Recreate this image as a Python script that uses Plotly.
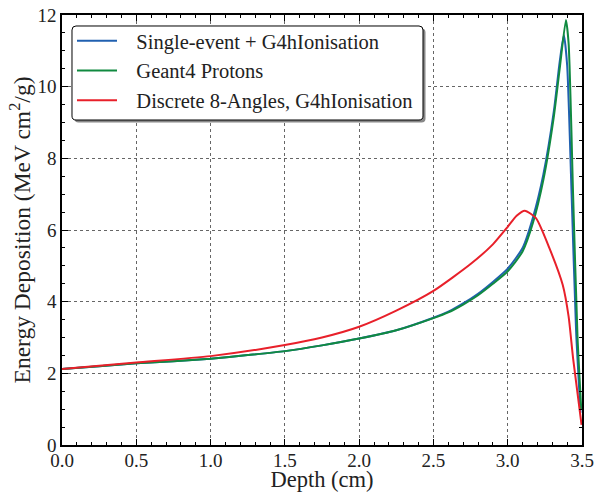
import plotly.graph_objects as go

# Depth (cm) and energy deposition (MeV cm^2/g)
depth_single = [0.0, 0.25, 0.5, 0.75, 1.0, 1.25, 1.5, 1.75, 2.0, 2.25, 2.5, 2.6, 2.7, 2.8, 2.9, 3.0,
                3.1, 3.17, 3.24, 3.31, 3.35, 3.378, 3.40, 3.43, 3.46, 3.49]
edep_single = [2.12, 2.2, 2.28, 2.34, 2.41, 2.51, 2.62, 2.78, 2.97, 3.2, 3.55, 3.72, 3.95, 4.22, 4.55, 4.92,
               5.5, 6.35, 7.55, 9.3, 10.7, 11.44, 10.6, 7.0, 3.2, 0.9]

depth_geant = [0.0, 0.25, 0.5, 0.75, 1.0, 1.25, 1.5, 1.75, 2.0, 2.25, 2.5, 2.6, 2.7, 2.8, 2.9, 3.0,
               3.1, 3.17, 3.24, 3.31, 3.35, 3.392, 3.41, 3.44, 3.47, 3.495]
edep_geant = [2.12, 2.2, 2.28, 2.34, 2.41, 2.51, 2.62, 2.78, 2.97, 3.2, 3.54, 3.7, 3.92, 4.18, 4.5, 4.85,
              5.4, 6.2, 7.4, 9.15, 10.5, 11.86, 11.2, 7.0, 3.0, 1.0]

depth_discrete = [0.0, 0.5, 1.0, 1.5, 1.75, 2.0, 2.25, 2.5, 2.75, 2.9, 3.0, 3.06, 3.115, 3.19, 3.28,
                  3.37, 3.41, 3.44, 3.497]
edep_discrete = [2.12, 2.3, 2.48, 2.79, 3.0, 3.3, 3.75, 4.3, 5.05, 5.6, 6.09, 6.4, 6.54, 6.33, 5.5,
                 4.47, 3.58, 2.42, 0.56]

names = ["Single-event + G4hIonisation", "Geant4 Protons", "Discrete 8-Angles, G4hIonisation"]
colors = ["#2060b0", "#108a40", "#e8202a"]

FONT = "Liberation Serif, Times New Roman, serif"
W, H = 596, 492
ML, MR, MT, MB = 62, 14, 15, 47
PW, PH = W - ML - MR, H - MT - MB

fig = go.Figure()
for x, y, n, c in zip([depth_single, depth_geant, depth_discrete],
                      [edep_single, edep_geant, edep_discrete], names, colors):
    fig.add_trace(go.Scatter(x=x, y=y, mode="lines", name="\u2002\u2009" + n,
                             line=dict(color=c, width=2, shape="spline", smoothing=0.6)))

axis_common = dict(showline=True, linecolor="black", linewidth=1.5, mirror="allticks",
                   ticks="inside", ticklen=6, tickwidth=1, tickcolor="black",
                   showgrid=True, gridcolor="#666", griddash="dot", gridwidth=1,
                   zeroline=False, automargin=False,
                   tickfont=dict(family=FONT, size=19, color="#222"))

fig.update_xaxes(range=[0, 3.5], dtick=0.5, tickformat=".1f", ticklabelstandoff=-3,
                 minor=dict(dtick=0.1, ticks="inside", ticklen=3, tickcolor="black", showgrid=False),
                 title=dict(text="Depth (cm)", standoff=5,
                            font=dict(family=FONT, size=22.5, color="#222")),
                 **axis_common)
fig.update_yaxes(range=[0, 12], dtick=2,
                 minor=dict(dtick=0.5, ticks="inside", ticklen=3, tickcolor="black", showgrid=False),
                 title=dict(text="Energy Deposition (MeV cm<sup>2</sup>/g)", standoff=0,
                            font=dict(family=FONT, size=23.5, color="#222")),
                 **axis_common)


def px_to_paper(px, py):
    return (px - ML) / PW, (H - MB - py) / PH


def rounded_rect(x0, y0, x1, y1, r):
    a = px_to_paper(x0 + r, y0); b = px_to_paper(x1 - r, y0)
    c = px_to_paper(x1, y0); d = px_to_paper(x1, y0 + r)
    e = px_to_paper(x1, y1 - r); f = px_to_paper(x1, y1)
    g = px_to_paper(x1 - r, y1); h = px_to_paper(x0 + r, y1)
    i = px_to_paper(x0, y1); j = px_to_paper(x0, y1 - r)
    k = px_to_paper(x0, y0 + r); l = px_to_paper(x0, y0)
    fmt = lambda p: f"{p[0]:.5f},{p[1]:.5f}"
    return (f"M {fmt(a)} L {fmt(b)} Q {fmt(c)} {fmt(d)} L {fmt(e)} Q {fmt(f)} {fmt(g)} "
            f"L {fmt(h)} Q {fmt(i)} {fmt(j)} L {fmt(k)} Q {fmt(l)} {fmt(a)} Z")


# legend frame: shadow + rounded box
fig.add_shape(type="path", xref="paper", yref="paper", path=rounded_rect(74.5, 28.5, 425.5, 122.5, 4),
              fillcolor="#888", line_width=0, layer="above")
fig.add_shape(type="path", xref="paper", yref="paper", path=rounded_rect(72, 26, 423, 120, 4),
              fillcolor="white", line=dict(color="black", width=1), layer="above")

lx, ly = px_to_paper(72, 21)
fig.update_layout(
    width=W, height=H,
    margin=dict(l=ML, r=MR, t=MT, b=MB),
    plot_bgcolor="white", paper_bgcolor="white",
    font=dict(family=FONT, size=19, color="#222"),
    legend=dict(x=lx, y=ly, xanchor="left", yanchor="top",
                bgcolor="rgba(0,0,0,0)", borderwidth=0,
                font=dict(family=FONT, size=20.5, color="#222"), itemwidth=40),
    showlegend=True,
)

fig.write_html("out.html", config={"displayModeBar": False},
               post_script="document.body.style.margin='0';")
